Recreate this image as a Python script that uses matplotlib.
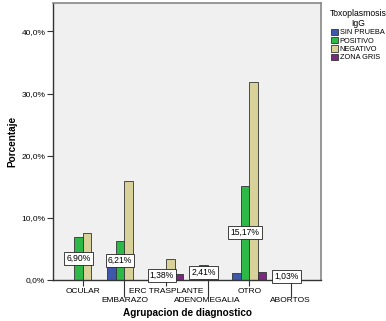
import matplotlib.pyplot as plt
import numpy as np
from matplotlib.ticker import FuncFormatter

plt.rcParams['font.family'] = ['Liberation Sans', 'DejaVu Sans']

categories = ["OCULAR", "EMBARAZO", "ERC TRASPLANTE", "ADENOMEGALIA", "OTRO", "ABORTOS"]
series = ["SIN PRUEBA", "POSITIVO", "NEGATIVO", "ZONA GRIS"]
sin_prueba = [0, 2.15, 0, 0, 1.07, 0]
positivo = [6.90, 6.21, 1.38, 2.41, 15.17, 1.03]
negativo = [7.6, 16.0, 3.4, 0, 31.9, 0]
zona_gris = [0, 0, 1.0, 0, 1.35, 0]
colors = ["#3E58AC", "#2DB848", "#D8D29A", "#7A2A7E"]


def pct(v, pos=None):
    return f"{v:.1f}%".replace(".", ",")


def main():
    fig = plt.figure(figsize=(3.86, 3.21), dpi=100)
    ax = fig.add_axes([0.137, 0.128, 0.695, 0.863])
    ax.set_facecolor("#F0F0F0")

    x = np.arange(len(categories))
    w = 0.205
    for i, (name, vals) in enumerate(zip(series, [sin_prueba, positivo, negativo, zona_gris])):
        vals = np.array(vals)
        mask = vals > 0
        ax.bar(x[mask] + (i - 1.5) * w, vals[mask], width=w, color=colors[i],
               edgecolor="#333333", linewidth=0.6, label=name, zorder=2)

    # labels on the POSITIVO bars
    for xi, v in zip(x, positivo):
        ax.text(xi - 0.5 * w, v / 2, f"{v:.2f}%".replace(".", ","),
                ha="center", va="center", fontsize=6.2, zorder=3,
                bbox=dict(boxstyle="square,pad=0.25", fc="white", ec="#222222", lw=0.6))

    ax.set_xlim(-0.72, 5.73)
    ax.set_ylim(0, 44.6)
    ax.set_yticks([0, 10, 20, 30, 40])
    ax.yaxis.set_major_formatter(FuncFormatter(pct))
    ax.tick_params(axis="y", labelsize=6, length=4, width=0.8, color="#333333", pad=1.5)

    ax.set_xticks(x[::2])
    ax.set_xticklabels(categories[::2], fontsize=6)
    ax.set_xticks(x[1::2], minor=True)
    ax.set_xticklabels(categories[1::2], minor=True, fontsize=6)
    ax.tick_params(axis="x", which="major", length=4, width=0.8, color="#333333", pad=1.5)
    ax.tick_params(axis="x", which="minor", length=12, width=0.8, color="#333333", pad=0.5)

    for s in ["top", "right"]:
        ax.spines[s].set_color("#888888")
        ax.spines[s].set_linewidth(1.2)
    for s in ["left", "bottom"]:
        ax.spines[s].set_color("#333333")
        ax.spines[s].set_linewidth(1.0)

    ax.set_ylabel("Porcentaje", fontsize=7.2, fontweight="bold", labelpad=3)
    ax.set_xlabel("Agrupacion de diagnostico", fontsize=7.2, fontweight="bold", labelpad=3)

    leg = ax.legend(title="Toxoplasmosis\nIgG", loc="upper left", bbox_to_anchor=(1.02, 0.99),
                    frameon=False, fontsize=5.3, title_fontsize=6.2, handlelength=0.9,
                    handleheight=0.9, handletextpad=0.2, labelspacing=0.1, borderaxespad=0.2,
                    borderpad=0.2)
    leg.get_title().set_multialignment("center")
    for h in leg.legend_handles:
        h.set_edgecolor("#333333")

    fig.savefig("out.png", dpi=100)


if __name__ == "__main__":
    main()
